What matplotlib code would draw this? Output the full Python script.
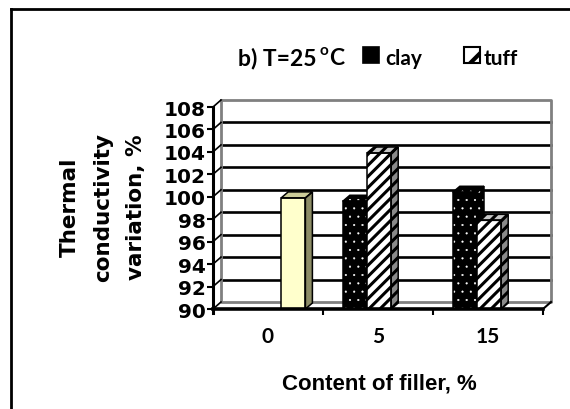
import numpy as np
import matplotlib
matplotlib.use("Agg")
import matplotlib.pyplot as plt
from matplotlib.patches import Rectangle, Polygon
from matplotlib.lines import Line2D

# ---- data ----
categories = ["0", "5", "15"]
clay = [np.nan, 99.6, 100.4]
tuff = [np.nan, 103.9, 97.9]
control = [99.9, np.nan, np.nan]
yticks = [90, 92, 94, 96, 98, 100, 102, 104, 106, 108]
title_main = "b) T=25"
title_sup = "o"
title_end = "C"
legend_labels = ["clay", "tuff"]
xlabel = "Content of filler, %"
ylabel_lines = ["Thermal", "conductivity", "variation, %"]

W, H = 570, 410
fig = plt.figure(figsize=(W / 100, H / 100), dpi=100)

def fx(px):
    return px / W

def fy(py):
    return 1 - py / H

# front plane in pixels
x0p, x1p, y0p, y1p = 213, 543, 310, 108
ax = fig.add_axes([fx(x0p), fy(y0p), (x1p - x0p) / W, (y0p - y1p) / H])
ax.set_xlim(-0.5, 2.5)
ax.set_ylim(90, 108)
ax.patch.set_visible(False)
for s in ax.spines.values():
    s.set_visible(False)

xr = 3.0 / (x1p - x0p)   # data units per px (x)
yr = 18.0 / (y0p - y1p)  # data units per px (y)
wdx, wdy = 8 * xr, 7 * yr   # wall depth
bdx, bdy = 7 * xr, 6 * yr   # bar depth
X0, X1, Y0, Y1 = -0.5, 2.5, 90, 108

gray = "#808080"
for yv in yticks[1:-1]:
    ax.plot([X0 + wdx, X1 + wdx], [yv + wdy, yv + wdy], color="black", lw=1.9, zorder=1, clip_on=False)
ax.plot([X0 + wdx, X1 + wdx, X1 + wdx, X0 + wdx, X0 + wdx],
        [Y1 + wdy, Y1 + wdy, Y0 + wdy, Y0 + wdy, Y1 + wdy], color=gray, lw=2, zorder=1.5, clip_on=False)
for yv in yticks:
    ax.plot([X0, X0 + wdx], [yv, yv + wdy], color="black", lw=1.2, zorder=1.6, clip_on=False)
ax.plot([X1, X1 + wdx], [Y0, Y0 + wdy], color="black", lw=1.5, zorder=1.6, clip_on=False)
ax.plot([X0, X0], [Y0 - 0.35, Y1], color="black", lw=2.2, zorder=5, clip_on=False)
ax.plot([X0, X1], [Y0, Y0], color="black", lw=2.6, zorder=5, clip_on=False)

bw = 0.22
offsets = [-0.21, 0.01, 0.23]

def bar3d(xc, val, front, top, side, hatch=None, hatch_col=None, hlw=1.0, zo=3):
    xl = xc - bw / 2
    xr_ = xc + bw / 2
    faces = [
        [(xl, Y0), (xr_, Y0), (xr_, val), (xl, val)],
        [(xl, val), (xr_, val), (xr_ + bdx, val + bdy), (xl + bdx, val + bdy)],
        [(xr_, Y0), (xr_ + bdx, Y0 + bdy), (xr_ + bdx, val + bdy), (xr_, val)],
    ]
    cols = [front, top, side]
    for f, c in zip(faces, cols):
        ax.add_patch(Polygon(f, closed=True, facecolor=c, edgecolor="none", zorder=zo, clip_on=False))
        if hatch:
            with plt.rc_context({"hatch.linewidth": hlw}):
                ax.add_patch(Polygon(f, closed=True, facecolor="none", edgecolor=hatch_col, lw=0,
                                     hatch=hatch, zorder=zo + 0.01, clip_on=False))
        ax.add_patch(Polygon(f, closed=True, fill=False, edgecolor="black", lw=1.1,
                             zorder=zo + 0.02, clip_on=False, joinstyle="miter"))

xpos = np.arange(len(categories))
zo = 3.0
for i, xc in enumerate(xpos):
    if not np.isnan(clay[i]):
        bar3d(xc + offsets[0], clay[i], "black", "black", "black", hatch="..", hatch_col="white",
              hlw=0.3, zo=zo)
        zo += 0.1
    if not np.isnan(tuff[i]):
        bar3d(xc + offsets[1], tuff[i], "white", "#c8c8c8", "#8a8a8a", hatch="///", hatch_col="black",
              hlw=2.2, zo=zo)
        zo += 0.1
    if not np.isnan(control[i]):
        bar3d(xc + offsets[2], control[i], "#FFFFCC", "#CCCC99", "#8C8C66", zo=zo)
        zo += 0.1

ax.set_yticks(yticks)
ax.set_yticklabels([str(v) for v in yticks], fontfamily="DejaVu Sans", fontweight="bold", fontsize=14.5)
ax.tick_params(axis="y", direction="out", length=4, width=1.5, pad=1, color="black")
ax.set_xticks(xpos)
ax.set_xticklabels(categories, fontfamily="Lato", fontweight="bold", fontsize=15)
ax.tick_params(axis="x", length=0, pad=12)
ax.set_xticks([0.5, 1.5, 2.5], minor=True)
ax.tick_params(axis="x", which="minor", direction="out", length=4, width=1.5, color="black")

for txt, xp in zip(ylabel_lines, [70, 103.5, 136]):
    fig.text(fx(xp), fy(207), txt, rotation=90, ha="center", va="center",
             fontfamily="DejaVu Sans", fontweight="bold", fontsize=15.5)

fig.text(fx(379), fy(390), xlabel, ha="center", va="baseline",
         fontfamily="Liberation Sans", fontweight="bold", fontsize=16)

fig.text(fx(317), fy(65), title_main, ha="right", va="baseline",
         fontfamily="Lato", fontweight="bold", fontsize=16.5)
fig.text(fx(320), fy(55), title_sup, ha="left", va="baseline",
         fontfamily="Lato", fontweight="bold", fontsize=11)
fig.text(fx(329), fy(65), title_end, ha="left", va="baseline",
         fontfamily="Lato", fontweight="bold", fontsize=16.5)

sq = 16
fig.add_artist(Rectangle((fx(363), fy(64)), sq / W, sq / H, facecolor="black",
                         edgecolor="black", lw=1.2, transform=fig.transFigure))
fig.text(fx(385), fy(65), legend_labels[0], ha="left", va="baseline",
         fontfamily="Lato", fontweight="bold", fontsize=15)
with plt.rc_context({"hatch.linewidth": 3.0}):
    fig.add_artist(Rectangle((fx(464), fy(64)), sq / W, sq / H, facecolor="white",
                             edgecolor="black", lw=1.5, hatch="/", transform=fig.transFigure))
fig.text(fx(484), fy(65), legend_labels[1], ha="left", va="baseline",
         fontfamily="Lato", fontweight="bold", fontsize=15)

fig.add_artist(Line2D([fx(11), fx(570)], [fy(10), fy(10)], color="black", lw=2,
                      transform=fig.transFigure))
fig.add_artist(Line2D([fx(11), fx(11)], [fy(10), fy(410)], color="black", lw=2,
                      transform=fig.transFigure))

fig.savefig("out.png", dpi=100)
